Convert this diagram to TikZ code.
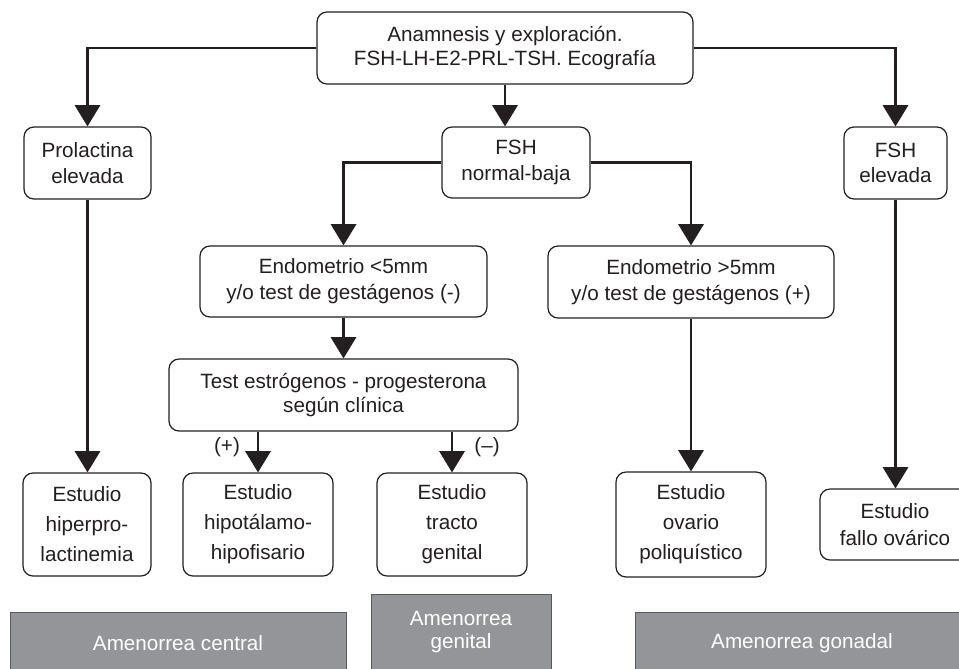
\documentclass[tikz,border=0pt]{standalone}
\usepackage{fontspec}
\setmainfont{Liberation Sans}
\usetikzlibrary{arrows.meta}
\definecolor{ink}{HTML}{231F20}
\definecolor{grayfill}{HTML}{939598}
\definecolor{grayedge}{HTML}{58595B}
\begin{document}
\begin{tikzpicture}[x=0.75pt,y=-0.75pt,
  box/.style={draw=ink, line width=0.9pt, rounded corners=7.5pt, fill=white,
    align=center, text=ink, inner sep=0pt,
    font=\fontsize{15.5}{18}\selectfont},
  studybox/.style={box, font=\fontsize{15.5}{22.5}\selectfont},
  graybox/.style={draw=grayedge, line width=0.7pt, fill=grayfill, text=white,
    align=center, inner sep=0pt, font=\fontsize{15.5}{17.5}\selectfont},
  conn/.style={draw=ink, line width=1.8pt},
  arr/.style={conn, -{Triangle[width=19pt,length=16pt]}},
  lbl/.style={text=ink, font=\fontsize{15.5}{17}\selectfont, inner sep=0pt}]
\useasboundingbox (0,0) rectangle (959,668);
\clip (0,0) rectangle (959,668);

% boxes
\node[box, minimum width=282pt, minimum height=54pt] (top) at (505,48)
  {Anamnesis y exploración.\\FSH-LH-E2-PRL-TSH. Ecografía};
\node[box, minimum width=95.25pt, minimum height=54pt, font=\fontsize{15.5}{20}\selectfont] (prl) at (87.5,163)
  {Prolactina\\elevada};
\node[box, minimum width=111pt, minimum height=53.25pt, font=\fontsize{15.5}{19}\selectfont] (fshn) at (516,162.5)
  {FSH\\normal-baja};
\node[box, minimum width=77.25pt, minimum height=54pt, font=\fontsize{15.5}{19}\selectfont] (fshe) at (895.5,163)
  {FSH\\elevada};
\node[box, minimum width=215.25pt, minimum height=53.25pt, font=\fontsize{15.5}{19.5}\selectfont] (endo1) at (343.5,281.5)
  {Endometrio <5mm\\y/o test de gestágenos (-)};
\node[box, minimum width=214.5pt, minimum height=54pt, font=\fontsize{15.5}{19.5}\selectfont] (endo2) at (691,282)
  {Endometrio >5mm\\y/o test de gestágenos (+)};
\node[box, minimum width=261.75pt, minimum height=54pt] (test) at (343.5,395)
  {Test estrógenos - progesterona\\según clínica};
\node[studybox, minimum width=96pt, minimum height=77.25pt] (e1) at (87,524.5)
  {Estudio\\hiperpro-\\lactinemia};
\node[studybox, minimum width=112.5pt, minimum height=77.25pt] (e2) at (258,524.5)
  {Estudio\\hipotálamo-\\hipofisario};
\node[studybox, minimum width=112.5pt, minimum height=77.25pt] (e3) at (452,524.5)
  {Estudio\\tracto\\genital};
\node[studybox, minimum width=112.5pt, minimum height=78.75pt] (e4) at (691,524.5)
  {Estudio\\ovario\\poliquístico};
\node[box, minimum width=112.5pt, minimum height=53.25pt, font=\fontsize{15.5}{20}\selectfont] (e5) at (895,524.5)
  {Estudio\\fallo ovárico};

% gray category boxes
\node[graybox, minimum width=252pt, minimum height=46.5pt] (gc) at (178,643)
  {Amenorrea central};
\node[graybox, minimum width=135pt, minimum height=57pt] (gg) at (461,632)
  {Amenorrea\\genital};
\node[graybox, minimum width=250.5pt, minimum height=46.5pt] (gn) at (802,643)
  {Amenorrea gonadal};

% connectors
\draw[arr] (top.west) -| (prl.north);
\draw[arr] (top.east) -| (fshe.north);
\draw[arr] (top.south) -- (top.south |- fshn.north);
\draw[arr] (fshn.west) -| (endo1.north);
\draw[arr] (fshn.east) -| (endo2.north);
\draw[arr] (endo1.south) -- (test.north);
\draw[arr] (e2.north |- test.south) -- (e2.north);
\draw[arr] (e3.north |- test.south) -- (e3.north);
\draw[arr] (prl.south) -- (prl.south |- e1.north);
\draw[arr] (endo2.south) -- (e4.north);
\draw[arr] (fshe.south) -- (fshe.south |- e5.north);

% labels
\node[lbl] (lp) at (227,447) {(+)};
\node[lbl] (lm) at (487,447) {(–)};
\end{tikzpicture}
\end{document}
